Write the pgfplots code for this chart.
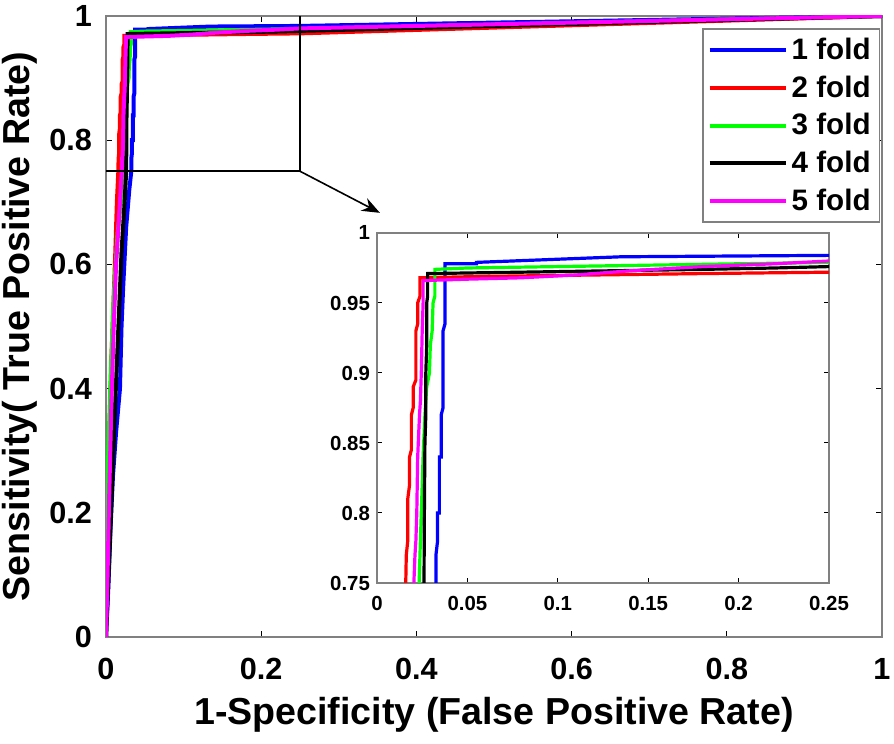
\documentclass[border=0pt]{standalone}
\usepackage{fontspec}
\setmainfont{Liberation Sans}
\usepackage{pgfplots}
\usepackage{pgfplotstable}
\pgfplotsset{compat=1.18}
\usetikzlibrary{arrows.meta}
\definecolor{cB}{RGB}{0,0,255}
\definecolor{cR}{RGB}{255,0,0}
\definecolor{cG}{RGB}{0,255,0}
\definecolor{cK}{RGB}{0,0,0}
\definecolor{cM}{RGB}{255,0,255}
\definecolor{frame}{RGB}{128,128,128}

\pgfplotstableread{
x y
0 0
0.003 0.08
0.006 0.18
0.009 0.26
0.013 0.33
0.018 0.40
0.020 0.50
0.022 0.56
0.026 0.66
0.030 0.72
0.0326 0.75
0.0326 0.77
0.0335 0.78
0.0335 0.80
0.0345 0.80
0.0345 0.84
0.0355 0.84
0.0355 0.87
0.0365 0.875
0.0365 0.93
0.0376 0.935
0.0376 0.978
0.055 0.978
0.055 0.979
0.075 0.980
0.095 0.981
0.115 0.982
0.135 0.983
0.25 0.984
1 1
}\foldA

\pgfplotstableread{
x y
0 0
0.002 0.15
0.004 0.30
0.007 0.45
0.010 0.55
0.012 0.62
0.014 0.70
0.0159 0.75
0.0162 0.77
0.0170 0.78
0.0170 0.81
0.0180 0.82
0.0180 0.84
0.0190 0.845
0.0190 0.87
0.0200 0.875
0.0200 0.89
0.0215 0.895
0.0215 0.93
0.0225 0.935
0.0225 0.95
0.0238 0.955
0.0238 0.968
0.06 0.969
0.12 0.970
0.18 0.971
0.25 0.972
1 1
}\foldB

\pgfplotstableread{
x y
0 0
0.001 0.15
0.003 0.30
0.006 0.42
0.010 0.55
0.015 0.65
0.020 0.71
0.0233 0.75
0.0240 0.78
0.0245 0.80
0.0255 0.84
0.0265 0.87
0.0275 0.89
0.0290 0.90
0.0295 0.92
0.0305 0.93
0.0310 0.95
0.0320 0.955
0.0320 0.974
0.05 0.975
0.10 0.976
0.15 0.977
0.20 0.978
0.25 0.979
1 1
}\foldC

\pgfplotstableread{
x y
0 0
0.004 0.12
0.008 0.25
0.012 0.38
0.016 0.50
0.020 0.62
0.024 0.70
0.0260 0.75
0.0262 0.80
0.0265 0.85
0.0270 0.87
0.0270 0.90
0.0275 0.92
0.0275 0.95
0.0280 0.955
0.0280 0.971
0.08 0.972
0.13 0.973
0.18 0.974
0.22 0.975
0.25 0.976
1 1
}\foldD

\pgfplotstableread{
x y
0 0
0.002 0.10
0.004 0.22
0.007 0.38
0.010 0.50
0.013 0.60
0.017 0.68
0.0204 0.75
0.0210 0.77
0.0215 0.78
0.0220 0.80
0.0225 0.84
0.0235 0.87
0.0240 0.88
0.0245 0.90
0.0250 0.93
0.0255 0.95
0.0255 0.966
0.05 0.967
0.08 0.968
0.11 0.970
0.14 0.973
0.18 0.976
0.22 0.978
0.25 0.980
1 1
}\foldE

\begin{document}
\begin{tikzpicture}[font=\bfseries]
\path[use as bounding box] (0,0) rectangle (447pt,372pt);
\begin{axis}[
  at={(53pt,53.5pt)}, anchor=south west,
  scale only axis, width=388pt, height=310.5pt,
  xmin=0, xmax=1, ymin=0, ymax=1,
  xtick={0,0.2,...,1}, ytick={0,0.2,...,1},
  xticklabels={0,0.2,0.4,0.6,0.8,1},
  yticklabels={0,0.2,0.4,0.6,0.8,1},
  tick align=inside, major tick length=3pt,
  axis line style={frame, line width=0.8pt},
  every tick/.style={black, line width=0.5pt},
  ticklabel style={font=\fontsize{15.3}{17}\selectfont\bfseries},
  xticklabel style={yshift=-7pt},
  yticklabel style={xshift=-3.5pt},
  xlabel={1-Specificity (False Positive Rate)},
  ylabel={Sensitivity( True Positive Rate)},
  every axis x label/.style={at={(axis description cs:0.5,-0.125)}, anchor=center},
  every axis y label/.style={at={(axis description cs:-0.111,0.5)}, rotate=90, anchor=center},
  label style={font=\fontsize{18.8}{21}\selectfont\bfseries},
  legend style={at={(axis description cs:0.998,0.98)}, anchor=north east,
    draw=frame, line width=0.8pt, font=\fontsize{14.8}{17}\selectfont\bfseries,
    row sep=2.6pt, inner sep=2.5pt},
  legend cell align=left,
  legend image code/.code={\draw[#1, line width=2pt] (0pt,0pt) -- (38pt,0pt);},
  clip=true,
]
\addplot[cB, line width=2pt] table {\foldA};
\addplot[cR, line width=2pt] table {\foldB};
\addplot[cG, line width=2pt] table {\foldC};
\addplot[cK, line width=2pt] table {\foldD};
\addplot[cM, line width=2pt] table {\foldE};
\legend{1 fold,2 fold,3 fold,4 fold,5 fold}
\draw[black, line width=0.8pt] (axis cs:0,0.75) -- (axis cs:0.25,0.75) -- (axis cs:0.25,1);
\draw[black, line width=0.8pt, -{Stealth[length=9pt,width=7pt]}] (axis cs:0.25,0.75) -- (axis cs:0.353,0.683);
\end{axis}
\fill[white] (188.5pt,80.5pt) rectangle (414.5pt,255.5pt);
\begin{axis}[
  at={(188.5pt,80.5pt)}, anchor=south west,
  scale only axis, width=226pt, height=175pt,
  xmin=0, xmax=0.25, ymin=0.75, ymax=1,
  xtick={0,0.05,0.1,0.15,0.2,0.25},
  ytick={0.75,0.8,0.85,0.9,0.95,1},
  xticklabels={0,0.05,0.1,0.15,0.2,0.25},
  yticklabels={0.75,0.8,0.85,0.9,0.95,1},
  tick align=inside, major tick length=2.5pt,
  axis line style={frame, line width=0.8pt},
  every tick/.style={black, line width=0.5pt},
  ticklabel style={font=\fontsize{10.2}{12}\selectfont\bfseries},
  xticklabel style={yshift=-3pt},
  clip=true,
]
\addplot[cB, line width=1.6pt] table {\foldA};
\addplot[cR, line width=1.6pt] table {\foldB};
\addplot[cG, line width=1.6pt] table {\foldC};
\addplot[cK, line width=1.6pt] table {\foldD};
\addplot[cM, line width=1.6pt] table {\foldE};
\end{axis}
\end{tikzpicture}
\end{document}
